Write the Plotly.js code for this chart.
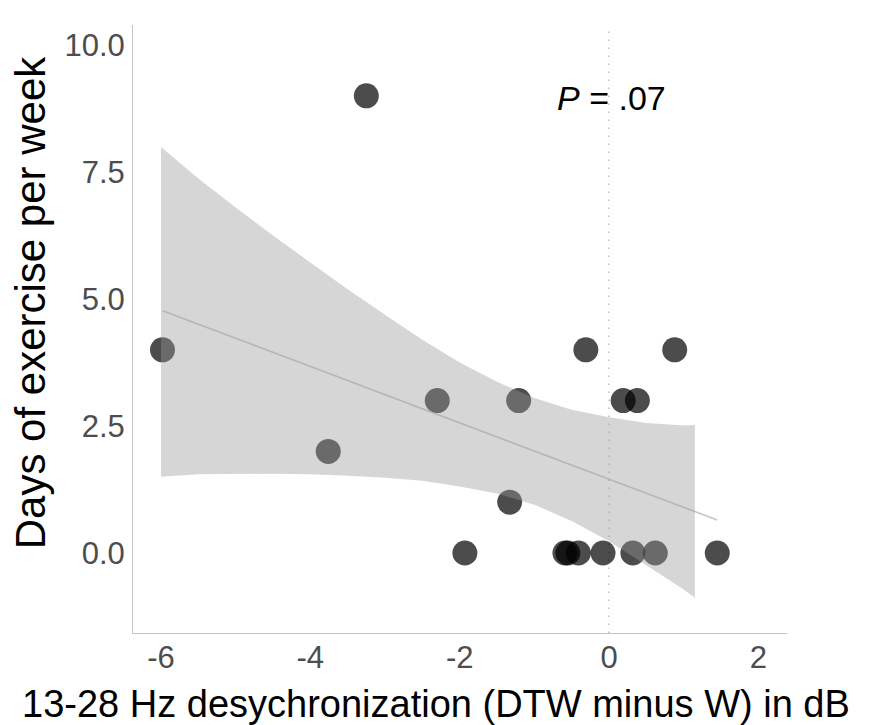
<!DOCTYPE html>
<html>
<head>
<meta charset="utf-8">
<script src="https://cdn.plot.ly/plotly-3.0.1.min.js"></script>
<style>html,body{margin:0;padding:0;background:#fff;}#chart{width:882px;height:725px;}</style>
</head>
<body>
<div id="chart"></div>
<script>
// Observed points
const desyncX = [-5.98, -3.25, -3.76, -2.30, -1.93, -1.21, -1.33, -0.59, -0.55, -0.41, -0.08, 0.32, 0.62, 1.45, -0.31, 0.88, 0.19, 0.38];
const exerciseDays = [4, 9, 2, 3, 0, 3, 1, 0, 0, 0, 0, 0, 0, 0, 4, 4, 3, 3];

// Fitted line (end points)
const fitX = [-5.98, 1.45];
const fitY = [4.77, 0.65];

// Confidence band
const bandX = [-6, -5.5, -5, -4.5, -4, -3.5, -3, -2.5, -2, -1.5, -1, -0.5, 0, 0.5, 1, 1.15];
const bandUpper = [7.99, 7.37, 6.80, 6.25, 5.72, 5.19, 4.69, 4.20, 3.75, 3.37, 3.05, 2.82, 2.67, 2.56, 2.51, 2.52];
const bandLower = [1.50, 1.55, 1.56, 1.56, 1.55, 1.52, 1.48, 1.42, 1.31, 1.17, 0.95, 0.63, 0.23, -0.24, -0.72, -0.88];

// Ticks
const xTickVals = [-6, -4, -2, 0, 2];
const xTickText = ["-6", "-4", "-2", "0", "2"];
const yTickVals = [0, 2.5, 5, 7.5, 10];
const yTickText = ["0.0", "2.5", "5.0", "7.5", "10.0"];

const xTitle = "13-28 Hz desychronization (DTW minus W) in dB";
const yTitle = "Days of exercise per week";
const pLabel = "<i>P</i> = .07";

const polyX = bandX.concat(bandX.slice().reverse());
const polyY = bandUpper.concat(bandLower.slice().reverse());

const traces = [
  {
    type: "scatter", mode: "markers", x: desyncX, y: exerciseDays,
    marker: {size: 25, color: "rgba(0,0,0,0.7)", line: {width: 0}},
    hoverinfo: "skip", showlegend: false
  },
  {
    type: "scatter", mode: "lines", x: polyX, y: polyY,
    fill: "toself", fillcolor: "rgba(153,153,153,0.4)",
    line: {width: 0, color: "rgba(0,0,0,0)"},
    hoverinfo: "skip", showlegend: false
  },
  {
    type: "scatter", mode: "lines", x: fitX, y: fitY,
    line: {width: 1.6, color: "rgba(160,160,160,0.6)"},
    hoverinfo: "skip", showlegend: false
  }
];

const tickFont = {family: "Liberation Sans, Arial, sans-serif", size: 31, color: "#4d4d4d"};
const xTitleFont = {family: "Liberation Sans, Arial, sans-serif", size: 38, color: "#000"};
const yTitleFont = {family: "Liberation Sans, Arial, sans-serif", size: 42, color: "#000"};

const layout = {
  width: 882, height: 725,
  margin: {l: 133, r: 95, t: 25, b: 92, pad: 0},
  paper_bgcolor: "#fff", plot_bgcolor: "#fff",
  showlegend: false,
  xaxis: {
    range: [-6.375, 2.384], tickvals: xTickVals, ticktext: xTickText, tickfont: tickFont,
    showgrid: false, zeroline: false, showline: true, linecolor: "#c4c4c4", linewidth: 1,
    ticks: "", ticklabelstandoff: -3
  },
  yaxis: {
    range: [-1.575, 10.394], tickvals: yTickVals, ticktext: yTickText, tickfont: tickFont,
    showgrid: false, zeroline: false, showline: true, linecolor: "#c4c4c4", linewidth: 1,
    ticks: "", ticklabelstandoff: 1
  },
  shapes: [{
    type: "line", xref: "x", yref: "paper", x0: 0, x1: 0, y0: 0, y1: 1,
    line: {color: "#bdbdbd", width: 1.5, dash: "1.5px,6.5px"}, layer: "below"
  }],
  annotations: [
    {text: pLabel, xref: "x", yref: "y", x: 0.04, y: 8.96, showarrow: false,
     xanchor: "center", yanchor: "middle",
     font: {family: "Liberation Sans, Arial, sans-serif", size: 34, color: "#000"}},
    {text: xTitle, xref: "paper", yref: "paper", x: 0.463, y: 0, yshift: -49,
     xanchor: "center", yanchor: "top", showarrow: false, borderpad: 0, font: xTitleFont},
    {text: yTitle, xref: "paper", yref: "paper", x: 0, xshift: -103, y: 0.544,
     xanchor: "center", yanchor: "middle", textangle: -90, showarrow: false, font: yTitleFont}
  ]
};

Plotly.newPlot("chart", traces, layout, {staticPlot: true, displayModeBar: false});
</script>
</body>
</html>
